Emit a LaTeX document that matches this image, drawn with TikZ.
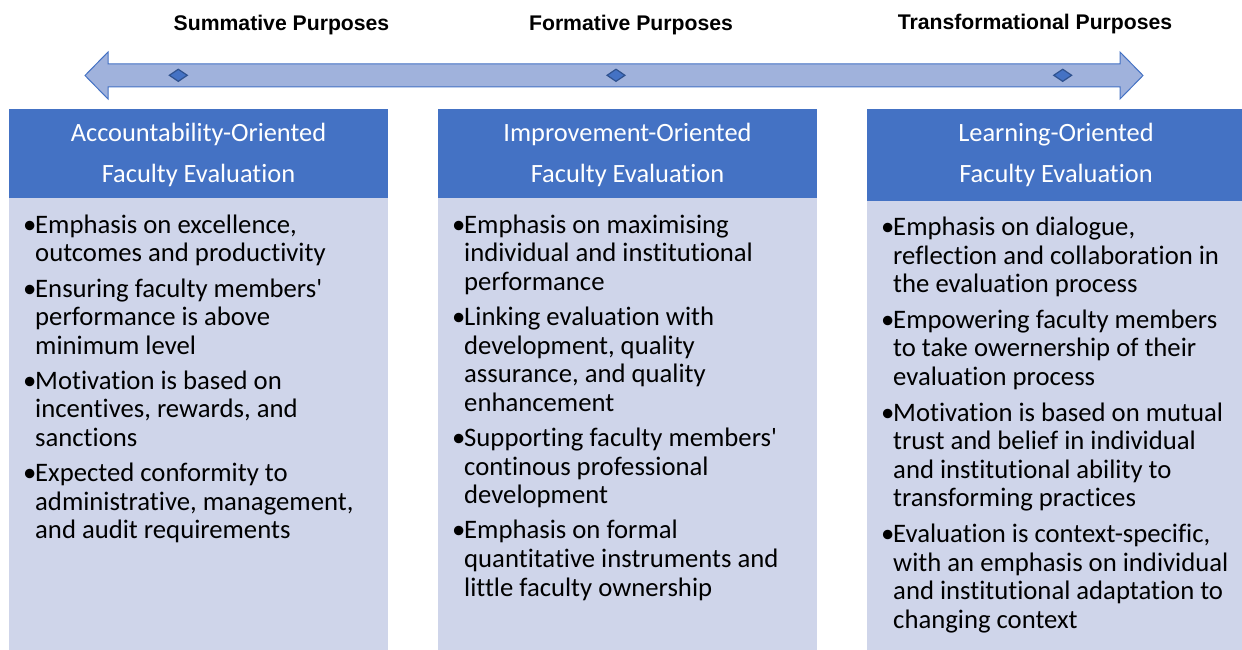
\documentclass[tikz,border=0pt]{standalone}
\usepackage{fontspec}
\usetikzlibrary{shapes.geometric}
\newfontfamily\calib{Carlito}[Ligatures={NoCommon}]
\newfontfamily\arl{Liberation Sans}
\definecolor{hdrblue}{HTML}{4472C4}
\definecolor{bodyblue}{HTML}{CFD5EA}
\definecolor{arrowfill}{HTML}{A0B2DC}
\definecolor{dmdline}{HTML}{2F528F}
\newcommand\bb{\makebox[12pt][l]{•}}
\tikzset{
  hdrbox/.style={fill=hdrblue, draw=none},
  bodybox/.style={fill=bodyblue, draw=none},
  hdrtext/.style={anchor=base, inner sep=0pt, text=white, font=\calib\fontsize{26.4}{41}\selectfont},
  bodytext/.style={anchor=base west, inner sep=0pt, font=\calib\fontsize{26.7}{28.6}\selectfont},
  purpose/.style={anchor=base, inner sep=0pt, font=\arl\bfseries\fontsize{21.2}{25}\selectfont},
  dmd/.style={diamond, fill=hdrblue, draw=dmdline, line width=1.2pt, minimum width=18.4pt, minimum height=12.6pt, inner sep=0pt},
  bigarrow/.style={fill=arrowfill, draw=hdrblue, line width=1pt, line join=miter}
}
\begin{document}
\begin{tikzpicture}[x=1pt,y=-1pt]
\useasboundingbox (0,0) rectangle (1242,650);
\begin{scope}
\clip (0,0) rectangle (1242,650);
% top purpose labels
\node[purpose] (p1) at (281.5,30.5) {Summative Purposes};
\node[purpose] (p2) at (631,30.5) {Formative Purposes};
\node[purpose] (p3) at (1035,30) {Transformational Purposes};
% double-headed block arrow
\coordinate (tipL) at (85,75.5);
\coordinate (tipR) at (1143,75.5);
\draw[bigarrow] (tipL) -- (108,52) -- (108,64) -- (1120,64) -- (1120,52) -- (tipR)
  -- (1120,99) -- (1120,87) -- (108,87) -- (108,99) -- cycle;
\node[dmd] (d1) at (178.3,75.3) {};
\node[dmd] (d2) at (616,75.3) {};
\node[dmd] (d3) at (1062.7,75.3) {};
% columns: header and body boxes
\fill[bodybox] (9,197.5) rectangle (388,650);
\fill[hdrbox] (9,109) rectangle (388,198);
\fill[bodybox] (438,197.5) rectangle (817,650);
\fill[hdrbox] (438,109) rectangle (817,198);
\fill[bodybox] (867,200) rectangle (1250,650);
\fill[hdrbox] (867,109.3) rectangle (1250,200.5);
% header texts
\node[hdrtext] (h1) at (198.5,141.7) {\begin{tabular}[t]{@{}c@{}}Accountability-Oriented\\Faculty Evaluation\end{tabular}};
\node[hdrtext] (h2) at (627.5,141.7) {\begin{tabular}[t]{@{}c@{}}Improvement-Oriented\\Faculty Evaluation\end{tabular}};
\node[hdrtext] (h3) at (1056,141.7) {\begin{tabular}[t]{@{}c@{}}Learning-Oriented\\Faculty Evaluation\end{tabular}};
% body texts
\node[bodytext] (b1) at (23,233.3) {\begin{tabular}[t]{@{}l@{}l@{}}
\bb&Emphasis on excellence,\\
&outcomes and productivity\\[6.5pt]
\bb&Ensuring faculty members'\\
&performance is above\\
&minimum level\\[6.5pt]
\bb&Motivation is based on\\
&incentives, rewards, and\\
&sanctions\\[6.5pt]
\bb&Expected conformity to\\
&administrative, management,\\
&and audit requirements
\end{tabular}};
\node[bodytext] (b2) at (452,233.3) {\begin{tabular}[t]{@{}l@{}l@{}}
\bb&Emphasis on maximising\\
&individual and institutional\\
&performance\\[6.5pt]
\bb&Linking evaluation with\\
&development, quality\\
&assurance, and quality\\
&enhancement\\[6.5pt]
\bb&Supporting faculty members'\\
&continous professional\\
&development\\[6.5pt]
\bb&Emphasis on formal\\
&quantitative instruments and\\
&little faculty ownership
\end{tabular}};
\node[bodytext] (b3) at (881,235.5) {\begin{tabular}[t]{@{}l@{}l@{}}
\bb&Emphasis on dialogue,\\
&reflection and collaboration in\\
&the evaluation process\\[7pt]
\bb&Empowering faculty members\\
&to take owernership of their\\
&evaluation process\\[7pt]
\bb&Motivation is based on mutual\\
&trust and belief in individual\\
&and institutional ability to\\
&transforming practices\\[7pt]
\bb&Evaluation is context-specific,\\
&with an emphasis on individual\\
&and institutional adaptation to\\
&changing context
\end{tabular}};
\end{scope}
\end{tikzpicture}
\end{document}
